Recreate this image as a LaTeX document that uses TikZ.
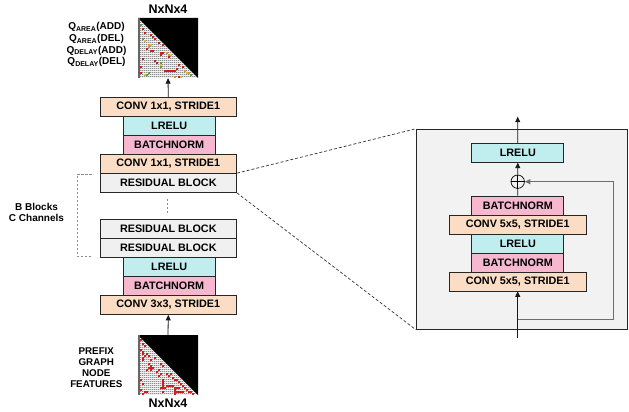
\documentclass[tikz,border=0pt]{standalone}
\usepackage{fontspec}
\setmainfont{Liberation Sans}
\usetikzlibrary{arrows.meta,calc}

\definecolor{convfill}{RGB}{250,221,196}
\definecolor{lrelufill}{RGB}{192,238,238}
\definecolor{bnfill}{RGB}{247,184,207}
\definecolor{resfill}{RGB}{240,240,240}
\definecolor{panelfill}{RGB}{242,242,242}
\definecolor{matgray}{RGB}{140,140,140}
\definecolor{matcell}{RGB}{212,212,212}
\definecolor{matred}{RGB}{208,30,30}
\definecolor{matorange}{RGB}{232,144,48}
\definecolor{matyellow}{RGB}{205,195,60}
\definecolor{matgreen}{RGB}{96,160,64}
\definecolor{skipgray}{RGB}{110,110,110}

% adjacency-matrix heat map: #1,#2 = top-left corner, #3 = list of col/row/colour cells
\newcommand{\drawadjmat}[3]{%
  \fill[matgray] (#1,#2) rectangle ++(60,60);
  \foreach \k in {0,...,29}{%
    \fill[matcell] ({#1+2*\k+0.6},#2) rectangle ++(1.2,60);
  }
  \foreach \k in {0,...,29}{%
    \fill[white!95!black] (#1,{#2+2*\k+0.6}) rectangle ++(60,0.5);
  }
  \foreach \i/\j/\c in {#3}{%
    \fill[\c] ({#1+2*\i},{#2+2*\j}) rectangle ++(2,2);
  }
  \fill[black] (#1,#2) -- ++(60,0) -- ++(0,60) -- cycle;
  \fill[black!60] (#1,#2) rectangle ++(1.8,60);
}

\begin{document}
\begin{tikzpicture}[x=1pt,y=-1pt,
  blk/.style={draw=black!85, line width=0.7pt, minimum height=19pt, inner sep=0pt,
    font=\fontsize{10.8}{12}\selectfont\bfseries, text=black},
  wide/.style={blk, minimum width=136.5pt},
  narrow/.style={blk, minimum width=92pt},
  convbox/.style={wide, fill=convfill},
  lrelubox/.style={narrow, fill=lrelufill},
  bnbox/.style={narrow, fill=bnfill},
  resbox/.style={wide, fill=resfill},
  arr/.style={-{Triangle[length=5.5pt,width=5pt]}, line width=0.8pt, draw=black!90},
  zoomline/.style={draw=black!80, line width=0.7pt, dash pattern=on 3pt off 2pt},
  bracket/.style={draw=black!45, line width=0.8pt, dash pattern=on 2.5pt off 1.5pt},
  skipline/.style={draw=skipgray, line width=1pt},
  lbl/.style={font=\fontsize{10}{11.6}\selectfont\bfseries, align=center, text=black}
]
\useasboundingbox (0,0) rectangle (629,412);

% ---------- output and input heat maps ----------
\drawadjmat{138}{18}{1/3/matgreen, 2/5/matred, 3/7/matred, 2/10/matgreen, 3/11/matyellow,
  6/8/matred, 7/9/matred, 8/10/matred, 5/13/matorange, 6/13/matyellow, 5/14/matorange,
  4/15/matred, 6/16/matred, 7/16/matred, 10/12/matred, 12/13/matred, 11/17/matred,
  12/17/matred, 11/18/matred, 14/17/matorange, 15/18/matorange, 16/18/matyellow,
  15/19/matred, 2/20/matred, 1/24/matred, 11/22/matgreen, 11/23/matyellow, 11/24/matgreen,
  13/26/matred, 14/26/matred, 15/26/matred, 16/26/matred, 17/26/matred, 18/26/matred,
  19/25/matred, 20/23/matred, 22/24/matred, 23/26/matorange, 24/27/matyellow,
  25/27/matorange, 26/28/matgreen, 3/28/matyellow, 4/28/matgreen, 5/27/matgreen,
  18/29/matorange, 20/29/matred, 21/29/matyellow, 1/27/matred, 8/21/matred, 9/22/matred}
\node[minimum size=60pt, inner sep=0pt] (outmat) at (168,48) {};

\drawadjmat{138}{335}{1/2/matred, 2/4/matred, 3/5/matred, 1/7/matred, 2/8/matred, 2/9/matred,
  3/10/matred, 2/11/matred, 2/12/matred, 4/9/matred, 5/10/matred, 6/12/matred, 8/11/matred,
  5/14/matred, 6/15/matred, 5/16/matred, 6/16/matred, 7/16/matred, 6/17/matred, 4/17/matred,
  9/18/matred, 10/17/matred, 11/14/matred, 12/15/matred, 10/20/matred, 11/19/matred,
  12/22/matred, 12/23/matred, 12/24/matred, 12/25/matred, 14/19/matred, 15/20/matred,
  16/19/matred, 17/21/matred, 18/22/matred, 19/22/matred, 1/22/matred, 2/24/matred,
  1/27/matred, 3/28/matred, 4/28/matred, 2/29/matred, 12/26/matred, 13/26/matred,
  14/25/matred, 15/25/matred, 16/25/matred, 17/25/matred, 18/26/matred, 18/27/matred,
  18/28/matred, 19/28/matred, 20/28/matred, 21/28/matred, 22/28/matred, 18/29/matred,
  20/23/matred, 21/24/matred, 22/25/matred, 23/26/matred, 24/27/matred, 25/28/matred,
  26/28/matred, 27/29/matred, 11/26/matred, 12/28/matred, 19/26/matred, 20/26/matred}
\node[minimum size=60pt, inner sep=0pt] (inmat) at (168,365) {};

\node[font=\fontsize{12.5}{14}\selectfont\bfseries] (outdim) at (168,9.5) {NxNx4};
\node[font=\fontsize{12.5}{14}\selectfont\bfseries] (indim) at (168,403.5) {NxNx4};
\node[lbl] (qlbl) at (96.5,44.8)
  {Q\textsubscript{AREA}(ADD)\\Q\textsubscript{AREA}(DEL)\\Q\textsubscript{DELAY}(ADD)\\Q\textsubscript{DELAY}(DEL)};
\node[lbl, font=\fontsize{9.8}{10.9}\selectfont\bfseries] (featlbl) at (96.3,367.9)
  {PREFIX\\GRAPH\\NODE\\FEATURES};
\node[lbl] (bclbl) at (36.5,212.5) {B Blocks\\C Channels};

% ---------- main network stack ----------
\node[convbox]  (conv1)  at (168.3,107) {CONV 1x1, STRIDE1};
\node[lrelubox] (lrelu1) at (169.2,126) {LRELU};
\node[bnbox]    (bn1)    at (169.2,145) {BATCHNORM};
\node[convbox]  (conv2)  at (168.3,164) {CONV 1x1, STRIDE1};
\node[resbox]   (res1)   at (168.3,183) {RESIDUAL BLOCK};
\node[resbox]   (res2)   at (168.3,229) {RESIDUAL BLOCK};
\node[resbox]   (res3)   at (168.3,248) {RESIDUAL BLOCK};
\node[lrelubox] (lrelu2) at (169.2,267) {LRELU};
\node[bnbox]    (bn2)    at (169.2,286) {BATCHNORM};
\node[convbox]  (conv3)  at (168.3,305) {CONV 3x3, STRIDE1};

\draw[arr] (conv1.north) -- (outmat.south);
\draw[arr] (inmat.north) -- (conv3.south);

% repeated residual blocks
\draw[bracket] ($(res1.south)+(-1,6)$) -- ($(res2.north)+(-1,-6)$);
\coordinate (brtop) at (91.7,174.3);
\coordinate (brbot) at (91.7,256.7);
\draw[bracket] (brtop) -- ++(-14.4,0) |- (brbot);

% ---------- residual block detail ----------
\node[draw=black!85, line width=1.2pt, fill=panelfill, minimum width=210.6pt,
      minimum height=200pt, inner sep=0pt] (panel) at (522,229.3) {};
\draw[zoomline] (res1.north east) -- (panel.north west);
\draw[zoomline] (res1.south east) -- (panel.south west);

\node[lrelubox] (rlrelu) at (517.8,152.8) {LRELU};
\node[bnbox]    (rbn1)   at (517.8,205.5) {BATCHNORM};
\node[convbox]  (rconv1) at (517.7,224.5) {CONV 5x5, STRIDE1};
\node[lrelubox] (rlrelu2) at (517.8,243.5) {LRELU};
\node[bnbox]    (rbn2)   at (517.8,262.5) {BATCHNORM};
\node[convbox]  (rconv2) at (517.7,281.5) {CONV 5x5, STRIDE1};

\node[draw=black!90, circle, line width=0.8pt, minimum size=13.4pt, inner sep=0pt,
      fill=panelfill] (sum) at (517.7,181.7) {};
\draw[line width=0.7pt] (sum.north) -- (sum.south) (sum.west) -- (sum.east);

\coordinate (outtop) at (517.7,116.7);
\coordinate (inbot) at (517.7,338.3);
\coordinate (skipstart) at (517.7,319.3);

\draw[line width=0.8pt, draw=black!90] (rbn1.north) -- (sum.south);
\draw[arr] (sum.north) -- (rlrelu.south);
\draw[arr] (rlrelu.north) -- (outtop);
\draw[skipline, -{Triangle[length=5.5pt,width=5pt]}] (skipstart) -- ++(95.6,0) |- (sum.east);
\draw[arr] (inbot) -- (rconv2.south);
\end{tikzpicture}
\end{document}
